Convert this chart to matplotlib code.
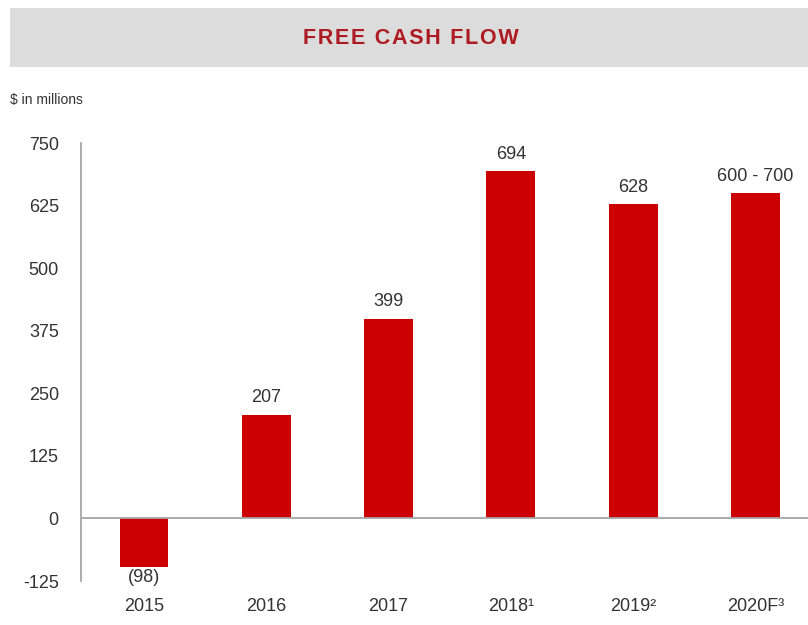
import matplotlib
matplotlib.use("Agg")
import matplotlib.pyplot as plt
from matplotlib.patches import Rectangle

years = ["2015", "2016", "2017", "2018¹", "2019²", "2020F³"]
values = [-98, 207, 399, 694, 628, 650]
value_labels = ["(98)", "207", "399", "694", "628", "600 - 700"]
yticks = [-125, 0, 125, 250, 375, 500, 625, 750]

FONT = ["Liberation Sans", "DejaVu Sans"]
plt.rcParams["font.family"] = FONT

W, H = 808, 625
fig = plt.figure(figsize=(W / 100, H / 100), dpi=100)

# title band
fig.patches.append(Rectangle((10 / W, 1 - 67 / H), 1 - 10 / W, 59 / H,
                             transform=fig.transFigure, facecolor="#DCDCDC",
                             edgecolor="none", zorder=0))
title = "\u200a".join("FREE CASH FLOW")
fig.text(411 / W, 1 - 38 / H, title, ha="center", va="center",
         fontsize=15.5, fontweight="bold", color="#AE1A22")
fig.text(10 / W, 1 - 100 / H, "$ in millions", ha="left", va="center",
         fontsize=10, color="#333333")

ax = fig.add_axes([81 / W, 44 / H, 1 - 81 / W, 438 / H])
x = list(range(len(years)))
ax.bar(x, values, width=0.4, color="#CC0000", zorder=2)
ax.set_xlim(-0.515, 5.43)
ax.set_ylim(-125, 750)
ax.axhline(0, color="#A6A6A6", lw=1.3, zorder=3)

for xi, v, lab in zip(x, values, value_labels):
    if v >= 0:
        ax.annotate(lab, (xi, v), xytext=(0, 6), textcoords="offset points",
                    ha="center", va="bottom", fontsize=13, color="#333333")
    else:
        ax.annotate(lab, (xi, v), xytext=(0, -1), textcoords="offset points",
                    ha="center", va="top", fontsize=13, color="#333333")

ax.set_yticks(yticks)
ax.set_yticklabels([str(t) for t in yticks], fontsize=13, color="#333333")
ax.set_xticks(x)
ax.set_xticklabels(years, fontsize=13, color="#333333")
ax.tick_params(axis="y", length=0, pad=16)
ax.tick_params(axis="x", length=0, pad=12)
for s in ["top", "right", "bottom"]:
    ax.spines[s].set_visible(False)
ax.spines["left"].set_color("#A6A6A6")
ax.spines["left"].set_linewidth(1.3)

fig.savefig("out.png", dpi=100)
